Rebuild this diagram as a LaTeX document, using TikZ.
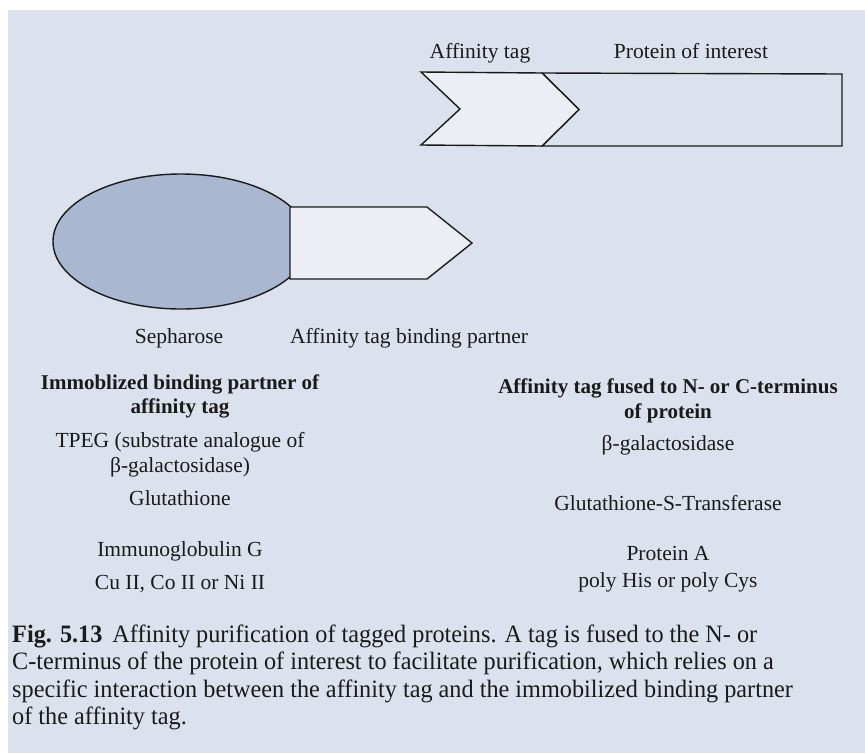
\documentclass[tikz,border=0pt]{standalone}
\usepackage{fontspec}
\setmainfont{Liberation Serif}
\newfontfamily\capfont[FakeStretch=0.97]{Liberation Serif}
\definecolor{bg}{HTML}{DCE2ED}
\definecolor{sepha}{HTML}{A9B7D0}
\definecolor{lightfill}{HTML}{EBEEF4}
\definecolor{ink}{HTML}{1A1A1A}
\begin{document}
\begin{tikzpicture}[x=1pt,y=-1pt,
  lbl/.style={anchor=base, inner sep=0pt, text=ink, font=\fontsize{21.5}{25}\selectfont},
  hd/.style={lbl, font=\fontsize{21}{25}\selectfont\bfseries},
  capline/.style={anchor=base west, inner sep=0pt, text=ink, font=\capfont\fontsize{25}{27}\selectfont},
  outline/.style={draw=ink, line width=1.4pt, line join=miter}]
\useasboundingbox (0,0) rectangle (865,753);
\fill[white] (0,0) rectangle (865,753);
\fill[bg] (8,10) rectangle (865,753);
% fused protein
\draw[outline, fill=bg] (542,73) -- (842,74) -- (842,146) -- (542,146) -- (579,109.5) -- cycle;
\draw[outline, fill=lightfill] (421,72) -- (542,73) -- (579,109.5) -- (542,146) -- (421,145) -- (460,109) -- cycle;
\node[lbl] (tag) at (480,58) {Affinity tag};
\node[lbl] (poi) at (691,58) {Protein of interest};
% sepharose with binding partner
\draw[outline, fill=sepha] (181,241.5) ellipse [x radius=128, y radius=67.5];
\draw[outline, fill=lightfill] (290,207) -- (427,207) -- (472,243) -- (427,279) -- (290,279) -- cycle;
\node[lbl] (seph) at (179,343) {Sepharose};
\node[lbl, anchor=base west] (bp) at (290,343) {Affinity tag binding partner};
% left column
\node[hd] (lh1) at (180,389) {Immoblized binding partner of};
\node[hd] (lh2) at (180,413) {affinity tag};
\node[lbl] (l1) at (180,447) {TPEG (substrate analogue of};
\node[lbl] (l2) at (180,472) {β-galactosidase)};
\node[lbl] (l3) at (180,505) {Glutathione};
\node[lbl] (l4) at (180,556) {Immunoglobulin G};
\node[lbl] (l5) at (180,589) {Cu II, Co II or Ni II};
% right column
\node[hd] (rh1) at (668,393) {Affinity tag fused to N- or C-terminus};
\node[hd] (rh2) at (668,418) {of protein};
\node[lbl] (r1) at (668,450) {β-galactosidase};
\node[lbl] (r2) at (668,510) {Glutathione-S-Transferase};
\node[lbl] (r3) at (668,560) {Protein A};
\node[lbl] (r4) at (668,587) {poly His or poly Cys};
% caption
\node[capline] (c1) at (12,642) {\textbf{Fig. 5.13}\hspace{0.4em}Affinity purification of tagged proteins. A tag is fused to the N- or};
\node[capline] (c2) at (12,669.5) {C-terminus of the protein of interest to facilitate purification, which relies on a};
\node[capline] (c3) at (12,697) {specific interaction between the affinity tag and the immobilized binding partner};
\node[capline] (c4) at (12,724) {of the affinity tag.};
\end{tikzpicture}
\end{document}
